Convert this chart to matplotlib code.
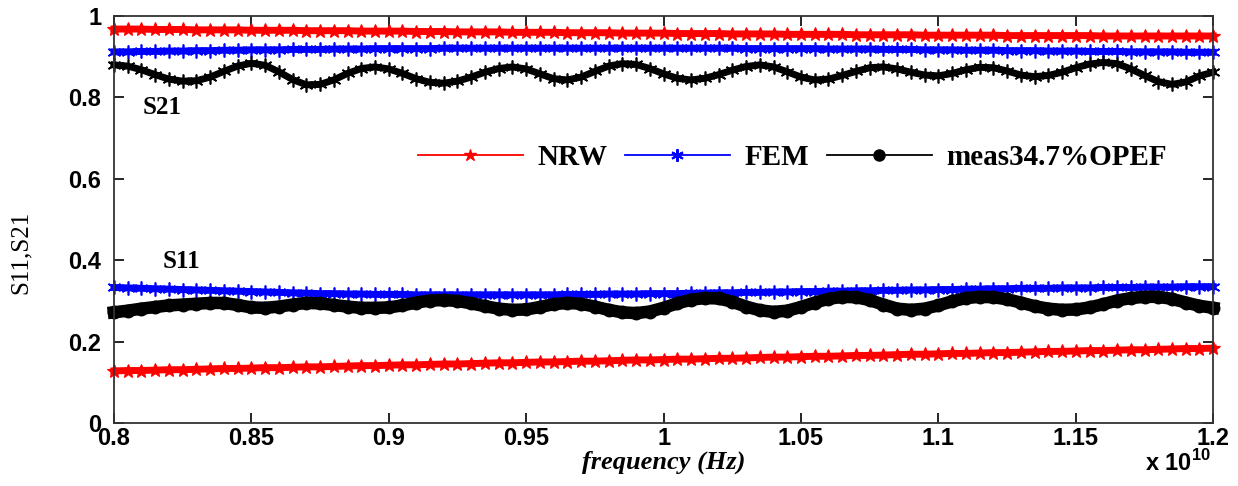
import numpy as np
import matplotlib
matplotlib.use('Agg')
import matplotlib.pyplot as plt
from matplotlib.lines import Line2D
from matplotlib.ticker import FuncFormatter, MultipleLocator

# ---------------------------------------------------------
# Data (81 points, 0.8e10 .. 1.2e10 Hz)
# ---------------------------------------------------------
freq = np.linspace(0.8e10, 1.2e10, 81)

s21_nrw = [0.968, 0.968, 0.968, 0.967, 0.967, 0.967, 0.966, 0.966, 0.966, 0.966,
           0.965, 0.965, 0.965, 0.965, 0.964, 0.964, 0.964, 0.964, 0.963, 0.963,
           0.963, 0.963, 0.962, 0.962, 0.962, 0.961, 0.961, 0.961, 0.961, 0.960,
           0.960, 0.960, 0.960, 0.959, 0.959, 0.959, 0.959, 0.958, 0.958, 0.958,
           0.958, 0.957, 0.957, 0.957, 0.957, 0.956, 0.956, 0.956, 0.956, 0.955,
           0.955, 0.955, 0.955, 0.955, 0.954, 0.954, 0.954, 0.954, 0.954, 0.953,
           0.953, 0.953, 0.953, 0.953, 0.953, 0.952, 0.952, 0.952, 0.952, 0.952,
           0.952, 0.952, 0.951, 0.951, 0.951, 0.951, 0.951, 0.951, 0.951, 0.951,
           0.951]

s21_fem = [0.912, 0.912, 0.913, 0.913, 0.914, 0.914, 0.915, 0.915, 0.916, 0.916,
           0.917, 0.917, 0.917, 0.918, 0.918, 0.918, 0.919, 0.919, 0.919, 0.920,
           0.920, 0.920, 0.920, 0.920, 0.921, 0.921, 0.921, 0.921, 0.921, 0.921,
           0.921, 0.921, 0.921, 0.921, 0.921, 0.921, 0.921, 0.921, 0.921, 0.921,
           0.921, 0.921, 0.921, 0.921, 0.921, 0.921, 0.920, 0.920, 0.920, 0.920,
           0.920, 0.920, 0.919, 0.919, 0.919, 0.919, 0.918, 0.918, 0.918, 0.917,
           0.917, 0.917, 0.916, 0.916, 0.916, 0.915, 0.915, 0.915, 0.914, 0.914,
           0.914, 0.913, 0.913, 0.913, 0.912, 0.912, 0.912, 0.912, 0.911, 0.911,
           0.911]

s21_meas = [0.880, 0.877, 0.868, 0.856, 0.845, 0.840, 0.841, 0.850, 0.864, 0.877,
            0.884, 0.879, 0.863, 0.844, 0.831, 0.832, 0.843, 0.859, 0.871, 0.875,
            0.870, 0.859, 0.846, 0.837, 0.835, 0.840, 0.850, 0.862, 0.871, 0.875,
            0.870, 0.858, 0.846, 0.843, 0.850, 0.864, 0.877, 0.883, 0.881, 0.871,
            0.858, 0.847, 0.843, 0.847, 0.856, 0.867, 0.876, 0.880, 0.875, 0.863,
            0.850, 0.843, 0.845, 0.854, 0.864, 0.873, 0.875, 0.870, 0.862, 0.855,
            0.853, 0.859, 0.868, 0.874, 0.873, 0.865, 0.855, 0.851, 0.854, 0.862,
            0.873, 0.882, 0.886, 0.883, 0.870, 0.854, 0.839, 0.832, 0.838, 0.853,
            0.862]

s11_nrw = [0.128, 0.129, 0.129, 0.130, 0.131, 0.131, 0.132, 0.133, 0.134, 0.134,
           0.135, 0.136, 0.136, 0.137, 0.138, 0.138, 0.139, 0.140, 0.141, 0.141,
           0.142, 0.143, 0.143, 0.144, 0.145, 0.145, 0.146, 0.147, 0.148, 0.148,
           0.149, 0.150, 0.150, 0.151, 0.152, 0.152, 0.153, 0.154, 0.155, 0.155,
           0.156, 0.157, 0.157, 0.158, 0.159, 0.159, 0.160, 0.161, 0.162, 0.162,
           0.163, 0.164, 0.164, 0.165, 0.166, 0.166, 0.167, 0.168, 0.169, 0.169,
           0.170, 0.171, 0.171, 0.172, 0.173, 0.173, 0.174, 0.175, 0.176, 0.176,
           0.177, 0.178, 0.178, 0.179, 0.180, 0.180, 0.181, 0.182, 0.183, 0.183,
           0.184]

s11_fem = [0.333, 0.332, 0.331, 0.330, 0.329, 0.328, 0.327, 0.326, 0.325, 0.324,
           0.323, 0.322, 0.321, 0.320, 0.319, 0.318, 0.318, 0.317, 0.317, 0.316,
           0.316, 0.316, 0.315, 0.315, 0.315, 0.315, 0.315, 0.315, 0.315, 0.315,
           0.315, 0.315, 0.315, 0.316, 0.316, 0.316, 0.317, 0.317, 0.317, 0.318,
           0.318, 0.318, 0.319, 0.319, 0.320, 0.320, 0.321, 0.321, 0.322, 0.322,
           0.323, 0.323, 0.324, 0.324, 0.325, 0.325, 0.326, 0.326, 0.327, 0.327,
           0.328, 0.328, 0.329, 0.329, 0.330, 0.330, 0.331, 0.331, 0.331, 0.332,
           0.332, 0.332, 0.333, 0.333, 0.333, 0.334, 0.334, 0.334, 0.335, 0.335,
           0.335]

s11_meas = [0.272, 0.276, 0.281, 0.285, 0.289, 0.291, 0.293, 0.295, 0.295, 0.290,
            0.284, 0.283, 0.286, 0.291, 0.295, 0.294, 0.290, 0.286, 0.283, 0.283,
            0.284, 0.289, 0.296, 0.301, 0.302, 0.300, 0.294, 0.287, 0.281, 0.278,
            0.279, 0.285, 0.292, 0.295, 0.293, 0.286, 0.278, 0.272, 0.270, 0.274,
            0.283, 0.294, 0.303, 0.307, 0.306, 0.298, 0.286, 0.277, 0.273, 0.276,
            0.285, 0.296, 0.305, 0.310, 0.309, 0.302, 0.291, 0.281, 0.278, 0.281,
            0.289, 0.299, 0.307, 0.310, 0.309, 0.304, 0.296, 0.287, 0.281, 0.278,
            0.279, 0.284, 0.292, 0.301, 0.307, 0.310, 0.310, 0.305, 0.296, 0.288,
            0.283]

legend_labels = ['NRW', 'FEM', 'meas34.7%OPEF']

# ---------------------------------------------------------
# Plot
# ---------------------------------------------------------
plt.rcParams['mathtext.fontset'] = 'custom'
plt.rcParams['mathtext.rm'] = 'Liberation Sans:bold'

fig = plt.figure(figsize=(12.38, 4.86), dpi=100)
ax = fig.add_axes([0.092, 0.1296, 0.888, 0.8374])

asterisk = (6, 2, 0)

for s in (s21_nrw, s11_nrw):
    ax.plot(freq, s, color='red', lw=5, marker='*', ms=10, mew=0.8, clip_on=False)
for s in (s21_fem, s11_fem):
    ax.plot(freq, s, color='blue', lw=5, marker=asterisk, ms=10, mew=1.2, clip_on=False)
ax.plot(freq, s21_meas, color='black', lw=5, marker=asterisk, ms=10, mew=1.2, clip_on=False)
ax.plot(freq, s11_meas, color='black', lw=9, marker='o', ms=9, clip_on=False)

ax.set_xlim(0.8e10, 1.2e10)
ax.set_ylim(0, 1)
ax.xaxis.set_major_locator(MultipleLocator(0.05e10))
ax.yaxis.set_major_locator(MultipleLocator(0.2))
ax.xaxis.set_major_formatter(FuncFormatter(lambda v, p: '%g' % round(v / 1e10, 3)))
ax.yaxis.set_major_formatter(FuncFormatter(lambda v, p: '%g' % round(v, 2)))
ax.tick_params(direction='in', length=7, width=1.2, top=True, right=True)
ax.tick_params(axis='y', pad=9)
ax.tick_params(axis='x', pad=3)
for lab in ax.get_xticklabels() + ax.get_yticklabels():
    lab.set_fontfamily('Liberation Sans')
    lab.set_fontweight('bold')
    lab.set_fontsize(17)
for sp in ax.spines.values():
    sp.set_linewidth(1.3)
    sp.set_color('#333333')

ax.set_xlabel('frequency (Hz)', family='Liberation Serif', style='italic',
              weight='bold', fontsize=19, labelpad=0)
ax.set_ylabel('S11,S21', family='Liberation Serif', fontsize=18)
ax.yaxis.set_label_coords(-0.075, 0.42)
fig.text(0.978, 0.02, r'x 10$^{10}$', ha='right', va='bottom',
         family='Liberation Sans', weight='bold', fontsize=17)

ax.text(0.8106e10, 0.776, 'S21', family='Liberation Serif', weight='bold',
        fontsize=18, va='center')
ax.text(0.8178e10, 0.396, 'S11', family='Liberation Serif', weight='bold',
        fontsize=18, va='center')

handles = [Line2D([], [], color='red', lw=1.3, marker='*', ms=9),
           Line2D([], [], color='blue', lw=1.3, marker=asterisk, ms=9, mew=1.5),
           Line2D([], [], color='black', lw=1.3, marker='o', ms=8)]
ax.legend(handles, legend_labels, loc='center', bbox_to_anchor=(0.617, 0.653),
          ncol=3, frameon=False, handlelength=3.6, handletextpad=0.5,
          columnspacing=0.6, prop={'family': 'Liberation Serif', 'weight': 'bold',
                                   'size': 21})

fig.savefig('out.png', dpi=100)
